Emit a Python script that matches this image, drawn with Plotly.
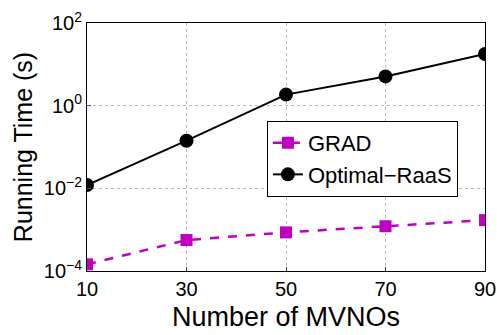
import plotly.graph_objects as go

x_mvnos = [10, 30, 50, 70, 90]
grad_time = [1.45e-4, 5.6e-4, 8.6e-4, 1.21e-3, 1.7e-3]
optimal_time = [0.012, 0.142, 1.85, 5.1, 17.8]
y_tick_vals = [1e-4, 1e-2, 1e0, 1e2]
y_tick_text = ["10<sup>−4</sup>", "10<sup>−2</sup>", "10<sup>0</sup>", "10<sup>2</sup>"]
x_tick_vals = [10, 30, 50, 70, 90]

font = "Liberation Sans, Arial, sans-serif"

fig = go.Figure()
fig.add_trace(go.Scatter(
    x=x_mvnos, y=grad_time, name="GRAD", mode="lines+markers",
    line=dict(color="#C000C0", width=2.5, dash="dash"),
    marker=dict(symbol="square", size=12, color="#C000C0"),
))
fig.add_trace(go.Scatter(
    x=x_mvnos, y=optimal_time, name="Optimal−RaaS", mode="lines+markers",
    line=dict(color="black", width=2),
    marker=dict(symbol="circle", size=14, color="black"),
))

fig.update_layout(
    width=497, height=335,
    margin=dict(l=87, r=12, t=23, b=64),
    paper_bgcolor="white", plot_bgcolor="white",
    font=dict(family=font, size=16, color="black"),
    showlegend=True,
    legend=dict(x=0.452, y=0.605, xanchor="left", yanchor="top",
                bgcolor="white", bordercolor="black", borderwidth=1,
                font=dict(size=22, family=font), tracegroupgap=0,
                itemwidth=30),
    xaxis=dict(range=[10, 90], tickvals=x_tick_vals, showline=True, linecolor="black",
               linewidth=1, mirror=True, ticks="inside", ticklen=4,
               showgrid=True, gridcolor="#b8b8b8", griddash="dot", gridwidth=1,
               zeroline=False, automargin=False,
               title=dict(text="Number of MVNOs", font=dict(size=27), standoff=8),
               tickfont=dict(size=20)),
    yaxis=dict(type="log", range=[-4, 2], tickvals=y_tick_vals, ticktext=y_tick_text,
               showline=True, linecolor="black", linewidth=1, mirror=True,
               ticks="inside", ticklen=4, automargin=False,
               showgrid=True, gridcolor="#b8b8b8", griddash="dot", gridwidth=1,
               zeroline=False,
               title=dict(text="Running Time (s)", font=dict(size=25), standoff=4),
               tickfont=dict(size=20)),
)

fig.write_html("out.html")
